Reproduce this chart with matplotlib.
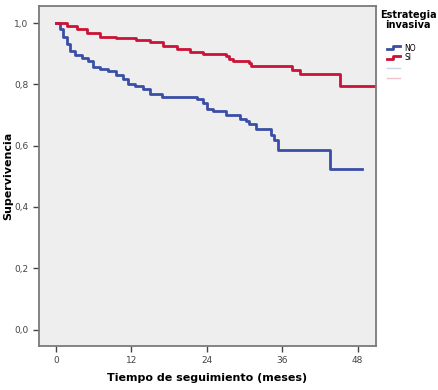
import matplotlib
matplotlib.use("Agg")
import matplotlib.pyplot as plt
from matplotlib.lines import Line2D
from matplotlib.legend_handler import HandlerBase

# Kaplan-Meier steps (time in months, survival)
t_no = [0, 0.6, 1.2, 1.7, 2.2, 3.0, 4.1, 5.1, 5.9, 7.0, 8.3, 9.6, 10.7, 11.5,
        12.6, 13.9, 14.9, 16.8, 22.4, 23.4, 24.0, 25.0, 27.1, 29.3, 30.3,
        30.8, 31.9, 34.3, 34.7, 35.3, 43.6, 48.7]
s_no = [1.0, 0.98, 0.953, 0.931, 0.909, 0.896, 0.887, 0.876, 0.857, 0.849,
        0.842, 0.83, 0.816, 0.802, 0.794, 0.784, 0.77, 0.76, 0.751, 0.74,
        0.72, 0.712, 0.70, 0.687, 0.68, 0.669, 0.655, 0.636, 0.62, 0.587,
        0.524, 0.524]

t_si = [0, 1.7, 3.3, 4.9, 7.0, 9.6, 12.8, 14.9, 17.1, 19.2, 21.3, 23.4,
        27.1, 27.5, 28.2, 30.8, 31.1, 37.5, 38.8, 45.2, 50.7]
s_si = [1.0, 0.991, 0.98, 0.967, 0.955, 0.951, 0.944, 0.937, 0.924, 0.915,
        0.907, 0.898, 0.893, 0.884, 0.876, 0.868, 0.86, 0.847, 0.833, 0.794,
        0.794]

x_ticks = [0, 12, 24, 36, 48]
y_ticks = [0.0, 0.2, 0.4, 0.6, 0.8, 1.0]
y_labels = ["0,0", "0,2", "0,4", "0,6", "0,8", "1,0"]

blue = "#3a4ea6"
red = "#cc1236"


class StepHandler(HandlerBase):
    # small step glyph like the SPSS legend
    def create_artists(self, legend, orig, xd, yd, w, h, fontsize, trans):
        xs = [xd, xd + w * 0.5, xd + w * 0.5, xd + w]
        ys = [yd + h * 0.2, yd + h * 0.2, yd + h * 0.8, yd + h * 0.8]
        if orig.get_alpha() is not None:
            xs = [xd, xd + w]
            ys = [yd + h * 0.5, yd + h * 0.5]
        ln = Line2D(xs, ys, color=orig.get_color(), lw=orig.get_linewidth(),
                    alpha=orig.get_alpha(), transform=trans)
        return [ln]


fig = plt.figure(figsize=(4.38, 3.9), dpi=100)
ax = fig.add_axes([0.089, 0.114, 0.769, 0.871])
ax.set_facecolor("#eeeeee")

ax.step(t_no, s_no, where="post", color=blue, lw=2.0)
ax.step(t_si, s_si, where="post", color=red, lw=2.0)

ax.set_xlim(-2.7, 50.9)
ax.set_ylim(-0.052, 1.056)
ax.set_xticks(x_ticks)
ax.set_xticklabels([str(v) for v in x_ticks])
ax.set_yticks(y_ticks)
ax.set_yticklabels(y_labels)
ax.tick_params(labelsize=6.5, labelcolor="#444444", color="#444444",
               length=4, width=1)
for sp in ax.spines.values():
    sp.set_color("#7a7a7a")
    sp.set_linewidth(1.3)

ax.set_xlabel("Tiempo de seguimiento (meses)", fontsize=8, fontweight="bold",
              labelpad=6)
ax.set_ylabel("Supervivencia", fontsize=8, fontweight="bold")
ax.yaxis.set_label_coords(-0.075, 0.5)

fig.text(0.932, 0.975, "Estrategia\ninvasiva", ha="center", va="top",
         fontsize=7, fontweight="bold", linespacing=1.0)

handles = [Line2D([], [], color=blue, lw=2),
           Line2D([], [], color=red, lw=2),
           Line2D([], [], color=blue, lw=1, alpha=0.25),
           Line2D([], [], color=red, lw=1, alpha=0.25)]
leg = fig.legend(handles, ["NO", "SI", " ", " "], loc="upper left",
                 bbox_to_anchor=(0.872, 0.902), frameon=False, fontsize=5.5,
                 handler_map={Line2D: StepHandler()}, handlelength=1.6,
                 handletextpad=0.6, labelspacing=0.12, borderpad=0.2)

fig.savefig("out.png", dpi=100)
